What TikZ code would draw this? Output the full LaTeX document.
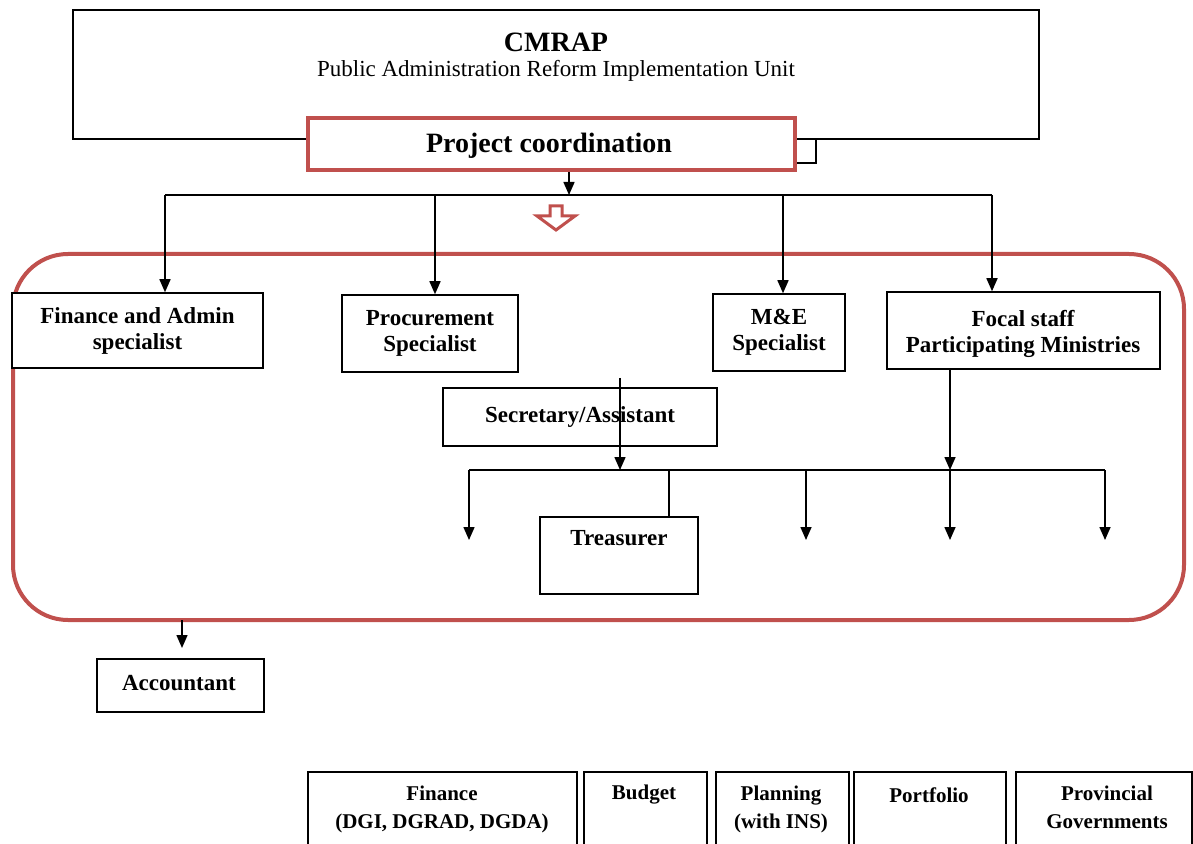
\documentclass[tikz,border=0pt]{standalone}
\usepackage{fontspec}
\setmainfont{Liberation Serif}
\usetikzlibrary{arrows.meta}
\definecolor{accentred}{HTML}{C0504D}

\begin{document}
\begin{tikzpicture}[x=0.5pt, y=-0.5pt]

\tikzstyle{box}=[rectangle, draw=black, line width=0.75pt, inner sep=0pt, fill=white, align=center, font=\bfseries\fontsize{11.5}{13}\selectfont]
\tikzstyle{redbox}=[rectangle, draw=accentred, line width=2pt, inner sep=0pt, fill=white]
\tikzstyle{lbl}=[align=center, inner sep=0pt, font=\bfseries\fontsize{11.5}{13}\selectfont]
\tikzstyle{unitlbl}=[align=center, inner sep=0pt, font=\fontsize{11.5}{13}\selectfont]
\tikzstyle{connect}=[-{Triangle[width=5.5pt,length=6.5pt]}, line width=0.75pt]
\tikzstyle{plain}=[line width=0.75pt]

\clip (0,0) rectangle (1193,844);

% unit on top
\node[box, minimum width=483pt, minimum height=64.5pt] (unit) at (556,74.5) {};
\node[lbl, font=\bfseries\fontsize{14}{16}\selectfont] (cmrap) at (556,42) {CMRAP};
\node[unitlbl] (unitname) at (556,71) {Public Administration Reform Implementation Unit};
\draw[plain] (780,139) rectangle (816,163);
\node[redbox, minimum width=243.5pt, minimum height=26pt] (coord) at (551.5,144) {};
\node[lbl, font=\bfseries\fontsize{14}{16}\selectfont] (coordlbl) at (549,146) {Project coordination};

% hollow arrow
\draw[accentred, line width=1.5pt, line join=miter]
  (550,206) -- (562,206) -- (562,216) -- (575,216) -- (556,230) -- (537,216) -- (550,216) -- cycle;

% project team frame
\draw[accentred, line width=2pt, rounded corners=27.5pt]
  (13,254) rectangle (1184,620);

\node[box, minimum width=125.5pt, minimum height=37.5pt] (finadm) at (137.5,330.5) {Finance and Admin\\specialist};
\node[box, minimum width=88pt, minimum height=38.5pt] (procure) at (430,333.5) {Procurement\\Specialist};
\node[box, minimum width=66pt, minimum height=38.5pt] (mande) at (779,332.5) {M\&E\\Specialist};
\node[box, minimum width=136.5pt, minimum height=38.5pt] (focal) at (1023.5,330.5) {};
\node[lbl] (focallbl) at (1023,334) {Focal staff\\Participating Ministries};
\node[box, minimum width=137pt, minimum height=29pt] (secr) at (580,417) {Secretary/Assistant};
\node[box, minimum width=79pt, minimum height=38.5pt] (treas) at (619,555.5) {};
\node[lbl] (treaslbl) at (619,538) {Treasurer};
\node[box, minimum width=83.5pt, minimum height=26.5pt] (accnt) at (180.5,685.5) {};
\node[lbl] (accntlbl) at (179,683) {Accountant};

% ministries
\node[box, minimum width=134.5pt, minimum height=49pt] (minfin) at (442.5,821) {};
\node[box, minimum width=61.5pt, minimum height=49pt] (minbud) at (645.5,821) {};
\node[box, minimum width=66.5pt, minimum height=49pt] (minplan) at (782.5,821) {};
\node[box, minimum width=76pt, minimum height=49pt] (minport) at (930,821) {};
\node[box, minimum width=88pt, minimum height=49pt] (minprov) at (1104,821) {};
\node[lbl, font=\bfseries\fontsize{10.5}{14}\selectfont] (minfinlbl) at (442,809) {Finance\\(DGI, DGRAD, DGDA)};
\node[lbl, font=\bfseries\fontsize{10.5}{14}\selectfont] (minbudlbl) at (644,795) {Budget};
\node[lbl, font=\bfseries\fontsize{10.5}{14}\selectfont] (minplanlbl) at (781,809) {Planning\\(with INS)};
\node[lbl, font=\bfseries\fontsize{10.5}{14}\selectfont] (minportlbl) at (929,795) {Portfolio};
\node[lbl, font=\bfseries\fontsize{10.5}{14}\selectfont] (minprovlbl) at (1107,807) {Provincial\\Governments};

% upper bus
\coordinate (bus0) at (569,195);
\coordinate (bus1) at (165,195);
\coordinate (bus2) at (435,195);
\coordinate (bus3) at (783,195);
\coordinate (bus4) at (992,195);

\path (coord.south -| bus0) [connect] edge (bus0);
\draw[plain] (bus1) -- (bus4);
\path (bus1) [connect] edge (bus1 |- finadm.north);
\path (bus2) [connect] edge (bus2 |- procure.north);
\path (bus3) [connect] edge (bus3 |- mande.north);
\path (bus4) [connect] edge (bus4 |- focal.north);

% lower bus
\coordinate (low0) at (620,470);
\coordinate (low1) at (469,470);
\coordinate (low2) at (806,470);
\coordinate (low3) at (950,470);
\coordinate (low4) at (1105,470);
\coordinate (lowtr) at (669,470);
\coordinate (secin) at (620,378);

\draw[plain] (low1) -- (low4);
\path (secin) [connect] edge (low0);
\path (focal.south -| low3) [connect] edge (low3);
\path (low1) [connect] edge ++(0,70);
\path (low2) [connect] edge ++(0,70);
\path (low3) [connect] edge ++(0,70);
\path (low4) [connect] edge ++(0,70);
\draw[plain] (lowtr) -- (lowtr |- treas.north);

\coordinate (acctop) at (182,620);
\path (acctop) [connect] edge ++(0,28);

\end{tikzpicture}
\end{document}
